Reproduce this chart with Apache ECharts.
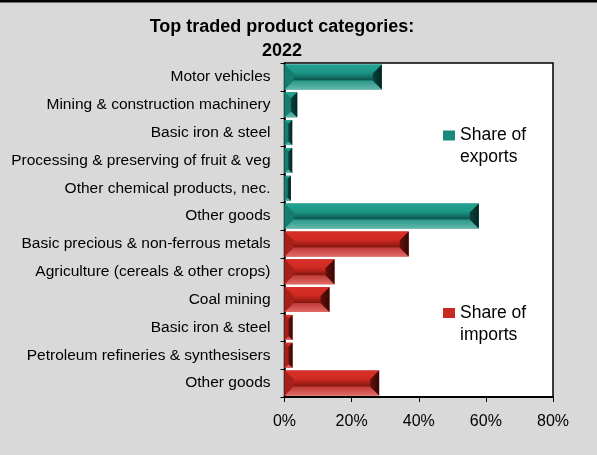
<!DOCTYPE html>
<html>
<head>
<meta charset="utf-8">
<script src="https://cdn.jsdelivr.net/npm/echarts@6/dist/echarts.min.js"></script>
<style>html,body{margin:0;padding:0;background:#d9d9d9;}#c{width:597px;height:455px;}</style>
</head>
<body>
<div id="c"></div>
<script>
// ---- data ----
const titleText = 'Top traded product categories:\n2022';
const exportCategories = ['Motor vehicles', 'Mining & construction machinery', 'Basic iron & steel', 'Processing & preserving of fruit & veg', 'Other chemical products, nec.', 'Other goods'];
const exportShares = [29.0, 3.8, 2.3, 2.3, 1.9, 57.9];
const importCategories = ['Basic precious & non-ferrous metals', 'Agriculture (cereals & other crops)', 'Coal mining', 'Basic iron & steel', 'Petroleum refineries & synthesisers', 'Other goods'];
const importShares = [37.0, 14.9, 13.4, 2.4, 2.4, 28.2];
const xTicks = [0, 20, 40, 60, 80];
const seriesNames = ['Share of exports', 'Share of imports'];

const categories = exportCategories.concat(importCategories);
const exportData = exportShares.map((v, i) => [v, i]);
const importData = importShares.map((v, i) => [v, i + exportCategories.length]);

const FONT = '"Liberation Sans", Arial, sans-serif';

const teal = {
  top: new echarts.graphic.LinearGradient(0,0,0,1,[{offset:0,color:'#23a392'},{offset:1,color:'#1b9484'}]),
  center: new echarts.graphic.LinearGradient(0,0,0,1,[{offset:0,color:'#1a9080'},{offset:0.55,color:'#126e63'},{offset:1,color:'#0a4e47'}]),
  bottom: new echarts.graphic.LinearGradient(0,0,0,1,[{offset:0,color:'#2a978a'},{offset:1,color:'#62b8ab'}]),
  left: '#157d6f',
  right: new echarts.graphic.LinearGradient(0,0,1,0,[{offset:0,color:'#0b423d'},{offset:1,color:'#042622'}]),
  legend: '#178a7c'
};
const red = {
  top: new echarts.graphic.LinearGradient(0,0,0,1,[{offset:0,color:'#d8302a'},{offset:1,color:'#cf2a22'}]),
  center: new echarts.graphic.LinearGradient(0,0,0,1,[{offset:0,color:'#cc2820'},{offset:0.55,color:'#a41e17'},{offset:1,color:'#7a1610'}]),
  bottom: new echarts.graphic.LinearGradient(0,0,0,1,[{offset:0,color:'#c03a36'},{offset:1,color:'#e06a66'}]),
  left: '#a6211a',
  right: new echarts.graphic.LinearGradient(0,0,1,0,[{offset:0,color:'#64110c'},{offset:1,color:'#380705'}]),
  legend: '#c42a22'
};

function bevel(colors) {
  return function (params, api) {
    const v = api.value(0), c = api.value(1);
    const p0 = api.coord([0, c]);
    const p1 = api.coord([v, c]);
    const band = api.size([0, 1])[1];
    const h = band * 0.9;
    const x0 = p0[0], x1 = p1[0];
    const y0 = p0[1] - h / 2, y1 = p0[1] + h / 2;
    const w = x1 - x0;
    const b = Math.min(9, w / 2, h / 2);
    return {
      type: 'group',
      children: [
        {type: 'rect', shape: {x: x0, y: y0, width: w, height: h}, style: {fill: colors.left}},
        {type: 'rect', shape: {x: x0 + b, y: y0 + b, width: Math.max(0, w - 2 * b), height: h - 2 * b}, style: {fill: colors.center}},
        {type: 'polygon', shape: {points: [[x0, y0], [x1, y0], [x1 - b, y0 + b], [x0 + b, y0 + b]]}, style: {fill: colors.top}},
        {type: 'polygon', shape: {points: [[x0, y1], [x1, y1], [x1 - b, y1 - b], [x0 + b, y1 - b]]}, style: {fill: colors.bottom}},
        {type: 'polygon', shape: {points: [[x0, y0], [x0 + b, y0 + b], [x0 + b, y1 - b], [x0, y1]]}, style: {fill: colors.left}},
        {type: 'polygon', shape: {points: [[x1, y0], [x1 - b, y0 + b], [x1 - b, y1 - b], [x1, y1]]}, style: {fill: colors.right}}
      ]
    };
  };
}

const legendIcon = 'path://M0,0h12v0.01h-12zM0,6h12v10h-12zM0,43.99h12v0.01h-12z';
function legendFor(name, color, top) {
  return {
    left: 443, top: top, padding: 0, orient: 'vertical',
    itemWidth: 12, itemHeight: 44, itemGap: 0,
    selectedMode: false,
    formatter: n => n.replace('of ', 'of\n'),
    textStyle: {fontFamily: FONT, fontSize: 17.5, color: '#000', lineHeight: 22, padding: [0, 0, 0, 0]},
    data: [{name: name, icon: legendIcon, itemStyle: {color: color}}]
  };
}

const chart = echarts.init(document.getElementById('c'));
chart.setOption({
  animation: false,
  backgroundColor: '#d9d9d9',
  title: {
    text: titleText, left: 277, top: 10, textAlign: 'center',
    textStyle: {fontFamily: FONT, fontSize: 18, fontWeight: 'bold', color: '#000', lineHeight: 24}
  },
  graphic: [{type: 'rect', left: 0, top: 0, shape: {width: 597, height: 2.5}, style: {fill: '#000'}, silent: true}],
  legend: [legendFor(seriesNames[0], teal.legend, 124.5), legendFor(seriesNames[1], red.legend, 302)],
  grid: {left: 284.5, right: 44, top: 63, bottom: 58, show: true, backgroundColor: '#fff', borderColor: '#000', borderWidth: 1.5},
  xAxis: {
    type: 'value', min: xTicks[0], max: xTicks[xTicks.length - 1], interval: 20,
    splitLine: {show: false},
    axisLine: {show: true, lineStyle: {color: '#000', width: 2}},
    axisTick: {show: true, length: 5, lineStyle: {color: '#000'}},
    axisLabel: {formatter: '{value}%', fontFamily: FONT, fontSize: 16, color: '#000', margin: 17}
  },
  yAxis: {
    type: 'category', inverse: true, data: categories,
    axisLine: {show: true, lineStyle: {color: '#000', width: 1.5}},
    axisTick: {show: true, length: 4, lineStyle: {color: '#000'}},
    axisLabel: {interval: 0, fontFamily: FONT, fontSize: 15.5, color: '#000', margin: 14}
  },
  series: [
    {name: seriesNames[0], type: 'custom', renderItem: bevel(teal), encode: {x: 0, y: 1}, data: exportData, itemStyle: {color: teal.legend}, z: 3},
    {name: seriesNames[1], type: 'custom', renderItem: bevel(red), encode: {x: 0, y: 1}, data: importData, itemStyle: {color: red.legend}, z: 3}
  ]
});
</script>
</body>
</html>
